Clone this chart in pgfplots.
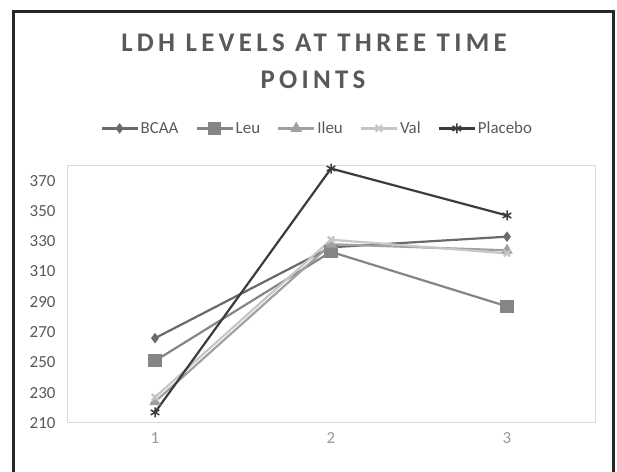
\documentclass[border=0pt]{standalone}
\usepackage{fontspec}
\setmainfont{Carlito}
\usepackage{pgfplots}
\pgfplotsset{compat=1.18}

\definecolor{txtgray}{HTML}{595959}
\definecolor{cBCAA}{HTML}{6A6A6A}
\definecolor{cLeu}{HTML}{858585}
\definecolor{cIleu}{HTML}{A0A0A0}
\definecolor{cVal}{HTML}{C6C6C6}
\definecolor{cPlac}{HTML}{3C3C3C}

\begin{document}
\begin{tikzpicture}[x=1bp,y=1bp]
\path[use as bounding box] (0,0) rectangle (617,472);
\fill[white] (0,0) rectangle (617,472);
% outer chart frame
\draw[line width=3bp,black!85] (13,-10) -- (13,460) -- (613,460) -- (613,-10);

% chart title
\node[text=txtgray,font=\fontsize{27}{32}\selectfont\bfseries\addfontfeature{LetterSpace=16}] at (314,429) {LDH LEVELS AT THREE TIME};
\node[text=txtgray,font=\fontsize{27}{32}\selectfont\bfseries\addfontfeature{LetterSpace=16}] at (313,392) {POINTS};

\begin{axis}[
  at={(67bp,49bp)}, anchor=south west,
  width=528bp, height=257.5bp, scale only axis,
  xmin=0.5, xmax=3.5, ymin=210, ymax=380,
  xtick={1,2,3}, ytick={210,230,...,370},
  major tick length=0pt,
  axis line style={draw=black!15, line width=1bp},
  /pgf/number format/assume math mode=true,
  tick label style={font=\fontsize{17}{20}\selectfont},
  yticklabel style={text=txtgray, xshift=-8bp},
  xticklabel style={text=black!40, yshift=-6bp},
  legend columns=-1,
  legend style={draw=none, fill=none, at={(0.474,1.144)}, anchor=center,
    font=\fontsize{17}{20}\selectfont, text=txtgray,
    /tikz/every even column/.append style={column sep=15bp}},
  legend image code/.code={
    \draw[mark repeat=2,mark phase=2] plot coordinates {(0bp,0bp) (18bp,0bp) (36bp,0bp)};},
  every axis plot/.append style={line width=2.2bp},
]
\addplot[color=cBCAA, mark=diamond*, mark size=3.5bp]
  coordinates {(1,266) (2,326) (3,333)};
\addlegendentry{BCAA}
\addplot[color=cLeu, mark=square*, mark size=5.5bp]
  coordinates {(1,251) (2,323) (3,287)};
\addlegendentry{Leu}
\addplot[color=cIleu, mark=triangle*, mark size=4.5bp]
  coordinates {(1,224) (2,328) (3,324)};
\addlegendentry{Ileu}
\addplot[color=cVal, mark=x, mark size=4.5bp]
  coordinates {(1,227) (2,331) (3,322)};
\addlegendentry{Val}
\addplot[color=cPlac, mark=asterisk, mark size=5bp, mark options={line width=1.5bp}]
  coordinates {(1,217) (2,378) (3,347)};
\addlegendentry{Placebo}
\end{axis}
\end{tikzpicture}
\end{document}
